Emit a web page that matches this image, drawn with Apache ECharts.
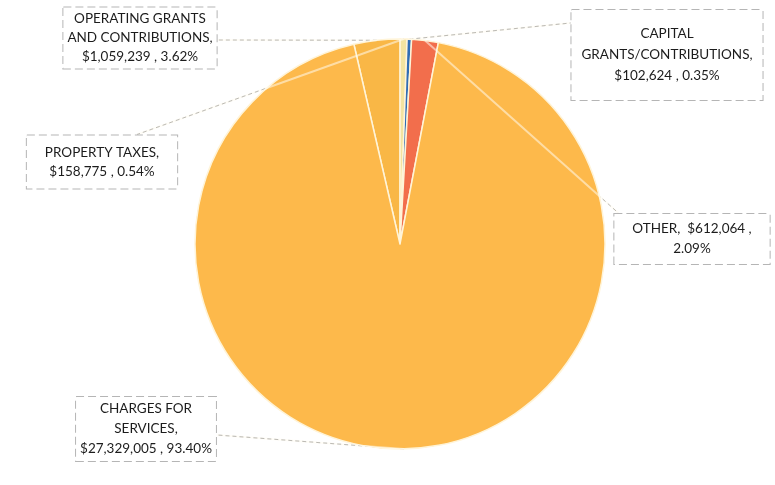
<!DOCTYPE html>
<html>
<head>
<meta charset="utf-8">
<script src="https://cdn.jsdelivr.net/npm/echarts@6/dist/echarts.min.js"></script>
<style>
  html, body { margin: 0; padding: 0; background: #ffffff; }
  #chart { width: 775px; height: 485px; }
</style>
</head>
<body>
<div id="chart"></div>
<script>
// Revenue sources, in slice order (clockwise from just left of 12 o'clock)
const categories = [
  'OPERATING GRANTS AND CONTRIBUTIONS',
  'PROPERTY TAXES',
  'CAPITAL GRANTS/CONTRIBUTIONS',
  'OTHER',
  'CHARGES FOR SERVICES'
];
const amounts = [1059239, 158775, 102624, 612064, 27329005];

// Label text, line by line; {v} = dollar amount, {p} = percent
const labelLines = [
  ['OPERATING GRANTS', 'AND CONTRIBUTIONS,', '{v} , {p}'],
  ['PROPERTY TAXES,', '{v} , {p}'],
  ['CAPITAL', 'GRANTS/CONTRIBUTIONS,', '{v} , {p}'],
  ['OTHER,  {v} ,', '{p}'],
  ['CHARGES FOR', 'SERVICES,', '{v} , {p}']
];

const sliceColors = ['#F9B746', '#F3E3A0', '#2F6DB5', '#F26E4C', '#FDB94B'];

// Callout box placement (centre of each box), padding and line spacing
const boxCentres = [[140, 38], [102, 162], [667, 55], [692, 239], [146, 429]];
const boxPadding = [
  [2, 4, 2, 4],
  [7, 18, 8, 18],
  [17, 10, 10, 10],
  [5, 18, 5, 18],
  [2, 4, 2, 4]
];
const boxLineHeight = [19, 19, 21, 20, 20];

// Where each leader line meets its box: side and offset along it
const leaderEnds = [
  { side: 'right', off: 2 },
  { side: 'top', off: 35 },
  { side: 'left', off: -32 },
  { side: 'topleft', off: 0 },
  { side: 'right', off: 6 }
];

const PIE_CENTER = [400, 244];
const PIE_RADIUS = 205;
const START_ANGLE = 103;

const chart = echarts.init(document.getElementById('chart'), null, { renderer: 'canvas' });

function fmtMoney(v) {
  return '$' + v.toLocaleString('en-US');
}

function labelText(p) {
  const v = fmtMoney(p.value);
  const pct = p.percent.toFixed(2) + '%';
  return labelLines[p.dataIndex]
    .map(l => l.replace('{v}', v).replace('{p}', pct))
    .join('\n');
}

function placeLabel(params) {
  const i = params.dataIndex;
  const c = boxCentres[i];
  const w = params.labelRect.width;
  const h = params.labelRect.height;
  const left = c[0] - w / 2, right = c[0] + w / 2;
  const top = c[1] - h / 2;
  const e = leaderEnds[i];
  let end;
  if (e.side === 'right') end = [right, c[1] + e.off];
  else if (e.side === 'left') end = [left, c[1] + e.off];
  else if (e.side === 'top') end = [c[0] + e.off, top];
  else end = [left + 5, top];
  const start = params.labelLinePoints ? params.labelLinePoints[0] : end;
  return {
    x: c[0], y: c[1], align: 'center', verticalAlign: 'middle',
    labelLinePoints: [start, start, end]
  };
}

// A pie layer; the label layers use invisible sectors so that only
// their callouts and leader lines show.
function pieLayer(z, opts) {
  return {
    type: 'pie',
    z,
    silent: !opts.sectors,
    center: PIE_CENTER,
    radius: [0, PIE_RADIUS],
    startAngle: START_ANGLE,
    clockwise: true,
    avoidLabelOverlap: false,
    data: categories.map((name, i) => ({
      name,
      value: amounts[i],
      itemStyle: opts.sectors
        ? { color: sliceColors[i], borderColor: '#FFF4D8', borderWidth: 1.5 }
        : { color: 'rgba(0,0,0,0)', borderWidth: 0 },
      label: { padding: boxPadding[i], lineHeight: boxLineHeight[i] }
    })),
    label: opts.label ? {
      show: true,
      position: 'outside',
      fontFamily: 'Lato',
      fontSize: 13.5,
      color: opts.labelVisible ? '#1c1c1c' : 'rgba(0,0,0,0)',
      align: 'center',
      backgroundColor: opts.labelVisible ? '#ffffff' : 'rgba(0,0,0,0)',
      borderColor: opts.labelVisible ? '#b5b5b5' : 'rgba(0,0,0,0)',
      borderWidth: 1,
      borderType: 'dashed',
      formatter: labelText
    } : { show: false },
    labelLine: opts.line ? {
      show: true,
      length: 12,
      length2: 12,
      lineStyle: opts.line
    } : { show: false },
    labelLayout: opts.label ? placeLabel : undefined
  };
}

chart.setOption({
  backgroundColor: '#ffffff',
  animation: false,
  series: [
    // grey dashed leader lines, hidden where they cross the pie
    pieLayer(1, { label: true, labelVisible: false,
      line: { color: '#6a6a6a', width: 1, type: [4, 3] } }),
    // the slices themselves
    pieLayer(2, { sectors: true }),
    // pale streaks of the leader lines over the pie, and the callout boxes
    pieLayer(3, { label: true, labelVisible: true,
      line: { color: 'rgba(255,252,240,0.55)', width: 2 } })
  ]
});
</script>
</body>
</html>
